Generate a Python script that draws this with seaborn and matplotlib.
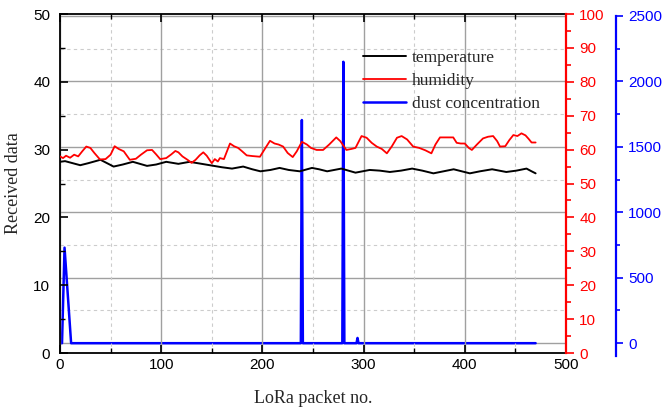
import matplotlib
matplotlib.use("Agg")
from matplotlib import pyplot as plt
from matplotlib.ticker import MultipleLocator
from matplotlib.lines import Line2D
import seaborn as sns

# temperature (left axis)
temp_x = [0, 5, 10, 20, 28, 40, 53, 62, 72, 86, 95, 105, 117, 128, 140, 148, 160, 170, 181, 190,
          198, 208, 217, 226, 237, 249, 256, 264, 278, 285, 292, 306, 316, 326, 337, 348, 358, 369,
          379, 389, 397, 405, 415, 427, 434, 441, 451, 461, 466, 470]
temp = [28.2, 28.3, 28.1, 27.7, 28.0, 28.5, 27.5, 27.8, 28.2, 27.6, 27.8, 28.2, 27.9, 28.2, 27.9,
        27.7, 27.4, 27.2, 27.5, 27.1, 26.8, 27.0, 27.3, 27.0, 26.8, 27.3, 27.1, 26.8, 27.2, 26.9,
        26.6, 27.0, 26.9, 26.7, 26.9, 27.2, 26.9, 26.5, 26.8, 27.1, 26.8, 26.5, 26.8, 27.1, 26.9,
        26.7, 26.9, 27.2, 26.8, 26.5]

# humidity (red axis)
hum_x = [0, 3, 6, 10, 14, 18, 22, 26, 30, 34, 39.5, 45, 50, 54, 58, 63, 69, 75, 80, 86, 91, 95, 99,
         105, 110, 114, 117, 121, 126, 130, 134, 138, 141.6, 145, 150, 153, 156, 158, 162, 165, 168,
         172, 176, 180, 184.5, 190, 197.6, 202, 207.5, 212, 216, 220.5, 225, 230, 234, 239, 244, 248,
         253.6, 260, 266, 273, 277, 283, 288, 292, 298, 303, 308, 313, 318, 323, 328, 333, 337.6,
         343, 349, 355, 361, 367, 371, 375.5, 382, 388.6, 392, 396, 400, 404, 407, 412, 418, 423,
         428, 432, 434.8, 440, 444, 448, 452, 456, 460, 463, 466, 470]
hum = [58, 57.5, 58.2, 57.6, 58.5, 58, 59.5, 60.9, 60.5, 59, 57.1, 57.2, 58.5, 61, 60.2, 59.5, 57,
       57.3, 58.5, 59.8, 59.9, 58.6, 57.2, 57.5, 58.6, 59.6, 59.2, 58, 57, 56.1, 57, 58.3, 59.2, 58.2,
       56, 57.2, 56.5, 57.5, 57.2, 59.5, 61.8, 61, 60.5, 59.5, 58.3, 58.1, 57.9, 60, 62.6, 61.8, 61.5,
       60.9, 59, 57.8, 59.5, 62.3, 61.5, 60.5, 59.9, 59.9, 61.5, 63.6, 62.5, 59.9, 60.2, 60.5, 64,
       63.5, 62, 60.9, 60.2, 58.9, 61, 63.5, 64, 63, 60.9, 60.5, 59.8, 58.9, 61.5, 63.6, 63.6, 63.6,
       62, 61.8, 61.8, 60.5, 59.9, 61.5, 63.3, 63.8, 64, 62.5, 60.9, 61, 62.8, 64.3, 64, 64.8, 64.2,
       63.2, 62.1, 62.1]

# dust concentration (blue axis)
dust_x = [0, 2, 4.5, 11, 238, 239, 240, 279, 280, 281, 293, 294, 295, 470]
dust = [0, 0, 730, 0, 0, 1705, 0, 0, 2150, 0, 0, 40, 0, 0]

sans = ["Liberation Sans", "DejaVu Sans"]
serif = ["Liberation Serif", "DejaVu Serif"]

sns.set_style("white")
plt.rcParams["font.family"] = sans
plt.rcParams["font.size"] = 11

fig = plt.figure(figsize=(6.65, 4.11), dpi=100)
ax1 = fig.add_axes([0.0902, 0.1411, 0.7609, 0.8248])
ax2 = ax1.twinx()
ax3 = ax1.twinx()

# blue axis sits at the back and carries the horizontal grid
ax3.set_zorder(0)
ax1.set_zorder(1)
ax2.set_zorder(2)
ax1.patch.set_visible(False)
ax2.patch.set_visible(False)

sns.lineplot(x=dust_x, y=dust, ax=ax3, color="#0000ff", lw=1.8)
sns.lineplot(x=temp_x, y=temp, ax=ax1, color="black", lw=1.4)
sns.lineplot(x=hum_x, y=hum, ax=ax2, color="#ff0000", lw=1.3)

ax1.set_xlim(0, 500)
ax1.set_ylim(0, 50)
ax2.set_ylim(0, 100)
ax3.set_ylim(-75, 2515)

ax1.xaxis.set_major_locator(MultipleLocator(100))
ax1.xaxis.set_minor_locator(MultipleLocator(50))
ax1.yaxis.set_major_locator(MultipleLocator(10))
ax1.yaxis.set_minor_locator(MultipleLocator(5))
ax2.yaxis.set_major_locator(MultipleLocator(10))
ax2.yaxis.set_minor_locator(MultipleLocator(5))
ax3.yaxis.set_major_locator(MultipleLocator(500))
ax3.yaxis.set_minor_locator(MultipleLocator(250))

# grids
ax3.grid(True, which="major", axis="y", color="#a0a0a0", lw=1.0)
ax3.grid(True, which="minor", axis="y", color="#cccccc", lw=0.8, ls=(0, (3, 3)))
ax1.grid(True, which="major", axis="x", color="#a0a0a0", lw=1.0)
ax1.grid(True, which="minor", axis="x", color="#cccccc", lw=0.8, ls=(0, (3, 3)))
ax1.grid(False, axis="y")
ax2.grid(False)

# spines
for s in ["left", "bottom", "top"]:
    ax1.spines[s].set_color("black")
    ax1.spines[s].set_linewidth(1.3)
ax1.spines["right"].set_visible(False)
for s in ["left", "bottom", "top"]:
    ax2.spines[s].set_visible(False)
    ax3.spines[s].set_visible(False)
ax2.spines["right"].set_color("#ff0000")
ax2.spines["right"].set_linewidth(1.6)
ax3.spines["right"].set_position(("axes", 1.099))
ax3.spines["right"].set_color("#0000ff")
ax3.spines["right"].set_linewidth(1.6)
ax3.spines["right"].set_bounds(-97, 2500)

ax1.tick_params(axis="both", which="both", direction="in", top=True, bottom=True, left=True,
                right=False, colors="black", labelsize=11)
ax1.tick_params(which="major", length=6, width=1.2)
ax1.tick_params(which="minor", length=3.5, width=1.0)
ax1.tick_params(axis="y", which="both", pad=7)
ax2.tick_params(axis="y", which="both", direction="out", colors="#ff0000", labelsize=11, width=1.2)
ax2.tick_params(axis="y", which="major", length=6)
ax2.tick_params(axis="y", which="minor", length=3.5)
ax3.tick_params(axis="y", which="both", direction="out", colors="#0000ff", labelsize=11, width=1.2)
ax3.tick_params(axis="y", which="major", length=5)
ax3.tick_params(axis="y", which="minor", length=3)

ax1.set_xlabel("LoRa packet no.", family=serif, fontsize=13, labelpad=13)
ax1.set_ylabel("Received data", family=serif, fontsize=13, labelpad=8)
ax2.set_ylabel("")
ax3.set_ylabel("")

handles = [Line2D([], [], color="black", lw=1.4),
           Line2D([], [], color="#ff0000", lw=1.3),
           Line2D([], [], color="#0000ff", lw=1.8)]
ax2.legend(handles, ["temperature", "humidity", "dust concentration"], loc="upper left",
           bbox_to_anchor=(0.585, 0.915), frameon=False, prop={"family": serif, "size": 12.5},
           handlelength=2.5, handletextpad=0.3, labelspacing=0.4, borderaxespad=0)

fig.savefig("out.png", dpi=100)
